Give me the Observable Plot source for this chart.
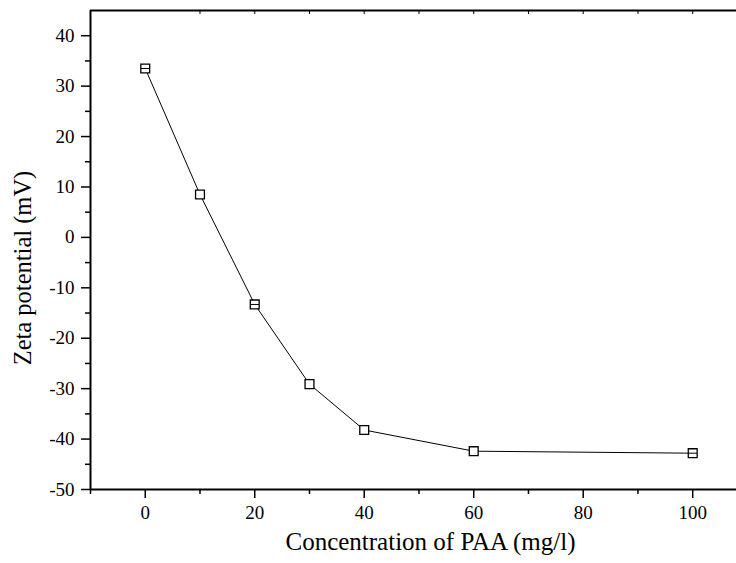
<!DOCTYPE html>
<html>
<head>
<meta charset="utf-8">
<script src="https://cdn.jsdelivr.net/npm/d3@7"></script>
<script src="https://cdn.jsdelivr.net/npm/@observablehq/plot@0.6"></script>
<style>
  html, body { margin: 0; padding: 0; background: #fff; }
  #chart svg { display: block; }
  #chart svg, #chart svg text, #chart svg g { font-family: "Liberation Serif", "Times New Roman", serif !important; }
</style>
</head>
<body>
<div id="chart"></div>
<script>
const concentration = [0, 10, 20, 30, 40, 60, 100];
const zeta = [33.5, 8.5, -13.3, -29.1, -38.2, -42.4, -42.8];
const barred = [true, false, true, false, false, false, true];

const xTicks = [0, 20, 40, 60, 80, 100];
const xMinorTicks = [-10, 10, 30, 50, 70, 90];
const xTopTicks = [10, 20, 30, 40, 50, 60, 70, 80, 90, 100];
const yTicks = [-50, -40, -30, -20, -10, 0, 10, 20, 30, 40];
const yMinorTicks = [-45, -35, -25, -15, -5, 5, 15, 25, 35];

const xLabel = "Concentration of PAA (mg/l)";
const yLabel = "Zeta potential (mV)";

const data = concentration.map((c, i) => ({c, z: zeta[i], barred: barred[i]}));

const midline = {
  draw(context, size) {
    const w = Math.sqrt(size) / 2;
    context.moveTo(-w, 0);
    context.lineTo(w, 0);
  }
};

const font = "Liberation Serif";
const fmt = d => String(d);

const chart = Plot.plot({
  width: 736,
  height: 563,
  marginLeft: 90,
  marginRight: 0,
  marginTop: 10,
  marginBottom: 74,
  style: {fontFamily: font, color: "#000", background: "#fff"},
  x: {domain: [-10, 108]},
  y: {domain: [-50, 45]},
  marks: [
    Plot.axisX(xMinorTicks, {tickSize: 5, text: null, strokeWidth: 1.5, label: null}),
    Plot.axisX(xTicks, {tickSize: 9, tickPadding: 7, fontSize: 19, fontFamily: font, tickFormat: fmt, strokeWidth: 1.5, label: null}),
    Plot.axisX(xTopTicks, {anchor: "top", tickSize: -3, text: null, strokeWidth: 1, label: null}),
    Plot.axisY(yMinorTicks, {tickSize: 5, text: null, strokeWidth: 1.5, label: null}),
    Plot.axisY(yTicks, {tickSize: 9, tickPadding: 7, fontSize: 19, fontFamily: font, tickFormat: fmt, strokeWidth: 1.5, label: null}),
    Plot.ruleY([-50], {stroke: "#000", strokeWidth: 2}),
    Plot.ruleY([45], {stroke: "#000", strokeWidth: 2}),
    Plot.ruleX([-10], {stroke: "#000", strokeWidth: 2}),
    Plot.line(data, {x: "c", y: "z", stroke: "#000", strokeWidth: 1}),
    Plot.dot(data, {x: "c", y: "z", symbol: "square", r: 5, fill: "#fff", stroke: "#000", strokeWidth: 1.3}),
    Plot.dot(data.filter(d => d.barred), {x: "c", y: "z", symbol: midline, r: 5, stroke: "#000", strokeWidth: 1}),
    Plot.text([xLabel], {frameAnchor: "bottom", lineAnchor: "bottom", dy: 60, dx: 17, fontSize: 25, fontFamily: font, fill: "#000"}),
    Plot.text([yLabel], {frameAnchor: "left", rotate: -90, textAnchor: "middle", lineAnchor: "middle", dx: -67.5, dy: 18, fontSize: 24.5, fontFamily: font, fill: "#000"})
  ]
});

document.getElementById("chart").appendChild(chart);
</script>
</body>
</html>
